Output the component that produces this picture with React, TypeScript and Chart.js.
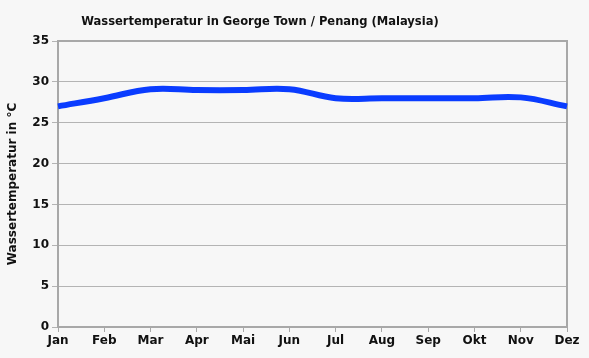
import React, { useEffect, useRef } from "react";
import { Chart, registerables } from "chart.js";

Chart.register(...registerables);

const months = ["Jan", "Feb", "Mar", "Apr", "Mai", "Jun", "Jul", "Aug", "Sep", "Okt", "Nov", "Dez"];
const waterTemp = [27, 28, 29.1, 29, 29, 29.1, 28, 28, 28, 28, 28.1, 27];
const titleText = "Wassertemperatur in George Town / Penang (Malaysia)";
const yAxisTitle = "Wassertemperatur in °C";

const FONT = "'DejaVu Sans', Verdana, sans-serif";
const TITLE_FONT = "'DejaVu Sans Condensed', 'DejaVu Sans', sans-serif";

const framePlugin = {
  id: "frame",
  beforeDatasetsDraw(chart: any) {
    const { ctx, chartArea } = chart;
    ctx.save();
    ctx.strokeStyle = "#a8a8a8";
    ctx.lineWidth = 2;
    ctx.strokeRect(chartArea.left, chartArea.top, chartArea.right - chartArea.left, chartArea.bottom - chartArea.top);
    ctx.restore();
  },
  afterDraw(chart: any) {
    const { ctx } = chart;
    ctx.save();
    ctx.fillStyle = "#111";
    ctx.font = `bold 12.8px ${TITLE_FONT}`;
    ctx.textAlign = "center";
    ctx.textBaseline = "middle";
    ctx.fillText(titleText, 260, 22);
    ctx.restore();
  },
};

export default function App() {
  const ref = useRef<HTMLCanvasElement>(null);
  useEffect(() => {
    const chart = new Chart(ref.current!, {
      type: "line",
      data: {
        labels: months,
        datasets: [
          {
            data: waterTemp,
            borderColor: "#0a3cff",
            borderWidth: 6,
            pointRadius: 0,
            tension: 0.4,
            fill: false,
          },
        ],
      },
      options: {
        animation: false,
        responsive: false,
        layout: { padding: { top: 41, right: 22, bottom: 0, left: 0 } },
        plugins: { legend: { display: false }, title: { display: false }, tooltip: { enabled: false } },
        scales: {
          x: {
            offset: false,
            grid: { drawOnChartArea: false, drawTicks: true, tickLength: 5, color: "#a8a8a8", lineWidth: 1 },
            border: { color: "#a8a8a8", width: 2 },
            ticks: { color: "#111", font: { family: FONT, size: 12, weight: "bold" }, padding: 2, maxRotation: 0, autoSkip: false },
            afterFit: (s: any) => { s.height = 31; },
          },
          y: {
            min: 0,
            max: 35,
            ticks: { stepSize: 5, color: "#111", font: { family: FONT, size: 12, weight: "bold" }, padding: 3 },
            grid: { color: "#b4b4b4", lineWidth: 1, tickLength: 6, drawTicks: true },
            border: { color: "#a8a8a8", width: 2 },
            title: { display: true, text: yAxisTitle, color: "#111", font: { family: FONT, size: 12, weight: "bold" }, padding: { top: 6, bottom: 0 } },
            afterFit: (s: any) => { s.width = 58; },
          },
        },
      },
      plugins: [framePlugin],
    } as any);
    return () => chart.destroy();
  }, []);
  return (
    <div style={{ position: "fixed", left: 0, top: 0, width: 589, height: 358, background: "#f7f7f7" }}>
      <canvas ref={ref} width={589} height={358} style={{ display: "block", width: 589, height: 358 }} />
    </div>
  );
}
